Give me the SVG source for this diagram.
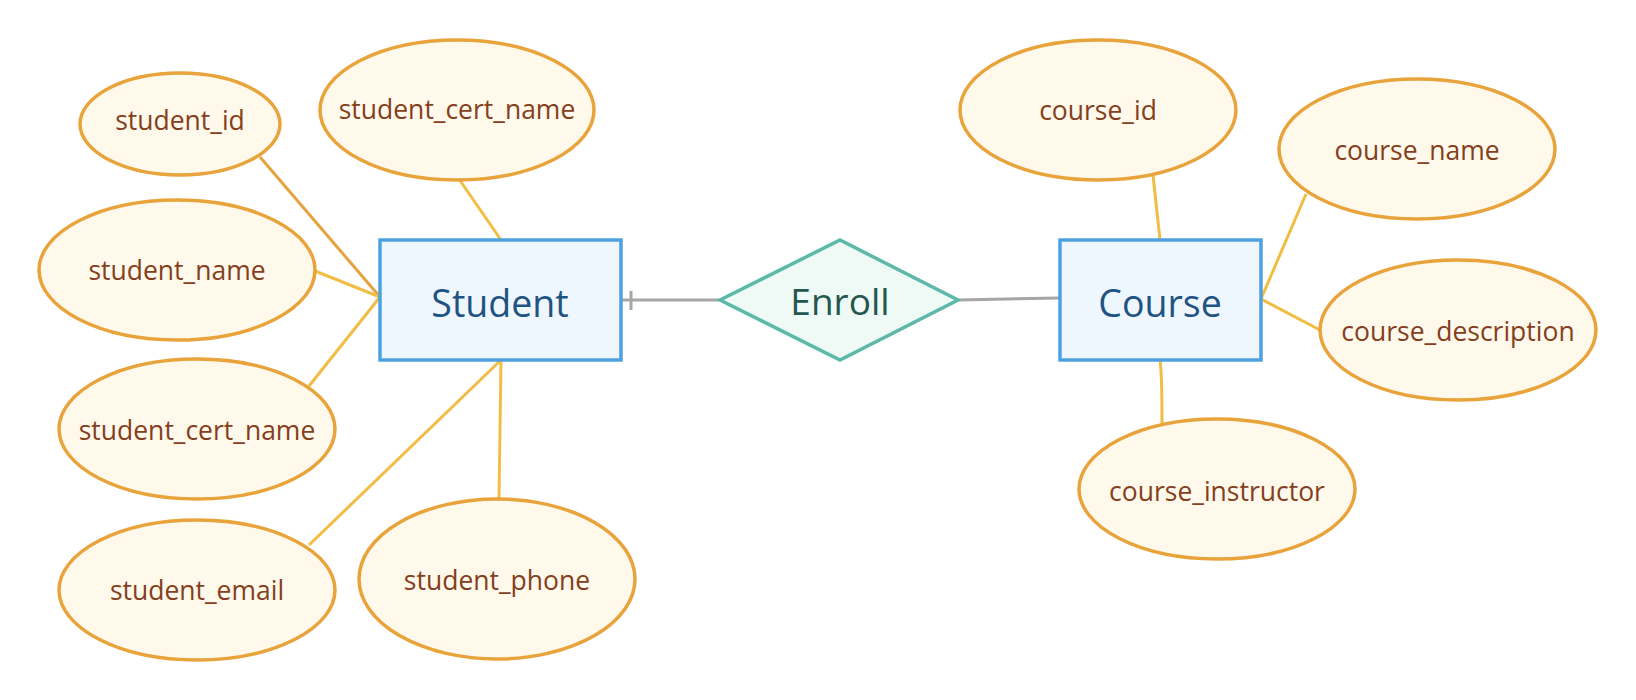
<svg xmlns="http://www.w3.org/2000/svg" width="1636" height="700" viewBox="0 0 1636 700">
<style>
.attr ellipse{fill:#fef9eb;stroke:#e9a33b;stroke-width:3.5}
.attr text{font-family:"Open Sans",sans-serif;font-size:26.5px;fill:#843f1c;text-anchor:middle;dominant-baseline:central}
.ent rect{fill:#eff7fe;stroke:#4ea2e0;stroke-width:3.5}
.ent text{font-family:"Open Sans",sans-serif;font-size:37.5px;fill:#1f5482;text-anchor:middle;dominant-baseline:central}
.rel polygon{fill:#effaf6;stroke:#5cb8a9;stroke-width:3.5}
.rel text{font-family:"Open Sans",sans-serif;font-size:37px;fill:#24574e;text-anchor:middle;dominant-baseline:central}
.c line,.c path{stroke:#f1bd45;stroke-width:3;fill:none}
.c .dk{stroke:#e6a23f}
.c .gr{stroke:#a6a6a6}
</style>
<g id="connectors" class="c">
<line class="dk" x1="260" y1="157" x2="380" y2="297"/>
<line x1="459" y1="179" x2="501" y2="240"/>
<line x1="315" y1="271" x2="380" y2="297"/>
<line x1="309" y1="386" x2="380" y2="297"/>
<line x1="309" y1="545" x2="501" y2="360"/>
<line x1="499" y1="499" x2="501" y2="360"/>
<line x1="1153" y1="175" x2="1160" y2="240"/>
<line x1="1306" y1="194" x2="1261" y2="299"/>
<line x1="1261" y1="299" x2="1320" y2="330"/>
<path d="M1160 360 Q1162 372 1162 426"/>
<line class="gr" x1="621" y1="300" x2="720" y2="300"/>
<line class="gr" x1="631" y1="291" x2="631" y2="310"/>
<line class="gr" x1="958" y1="300" x2="1060" y2="298"/>
</g>
<g id="Student" class="ent"><rect x="380" y="240" width="241" height="120"/><text x="500" y="302">Student</text></g>
<g id="Enroll" class="rel"><polygon points="720,300 840,240 958,300 840,360"/><text x="840" y="300">Enroll</text></g>
<g id="Course" class="ent"><rect x="1060" y="240" width="201" height="120"/><text x="1160" y="302">Course</text></g>
<g id="student_id" class="attr"><ellipse cx="180" cy="124" rx="100" ry="51"/><text x="180" y="120">student_id</text></g>
<g id="student_cert_name_top" class="attr"><ellipse cx="457" cy="110" rx="137" ry="70"/><text x="457" y="109">student_cert_name</text></g>
<g id="student_name" class="attr"><ellipse cx="177" cy="270" rx="138" ry="70"/><text x="177" y="270">student_name</text></g>
<g id="student_cert_name" class="attr"><ellipse cx="197" cy="429" rx="138" ry="70"/><text x="197" y="430">student_cert_name</text></g>
<g id="student_email" class="attr"><ellipse cx="197" cy="590" rx="138" ry="70"/><text x="197" y="590">student_email</text></g>
<g id="student_phone" class="attr"><ellipse cx="497" cy="579" rx="138" ry="80"/><text x="497" y="580">student_phone</text></g>
<g id="course_id" class="attr"><ellipse cx="1098" cy="110" rx="138" ry="70"/><text x="1098" y="110">course_id</text></g>
<g id="course_name" class="attr"><ellipse cx="1417" cy="149" rx="138" ry="70"/><text x="1417" y="150">course_name</text></g>
<g id="course_description" class="attr"><ellipse cx="1458" cy="330" rx="138" ry="70"/><text x="1458" y="331">course_description</text></g>
<g id="course_instructor" class="attr"><ellipse cx="1217" cy="489" rx="138" ry="70"/><text x="1217" y="491">course_instructor</text></g>
</svg>
